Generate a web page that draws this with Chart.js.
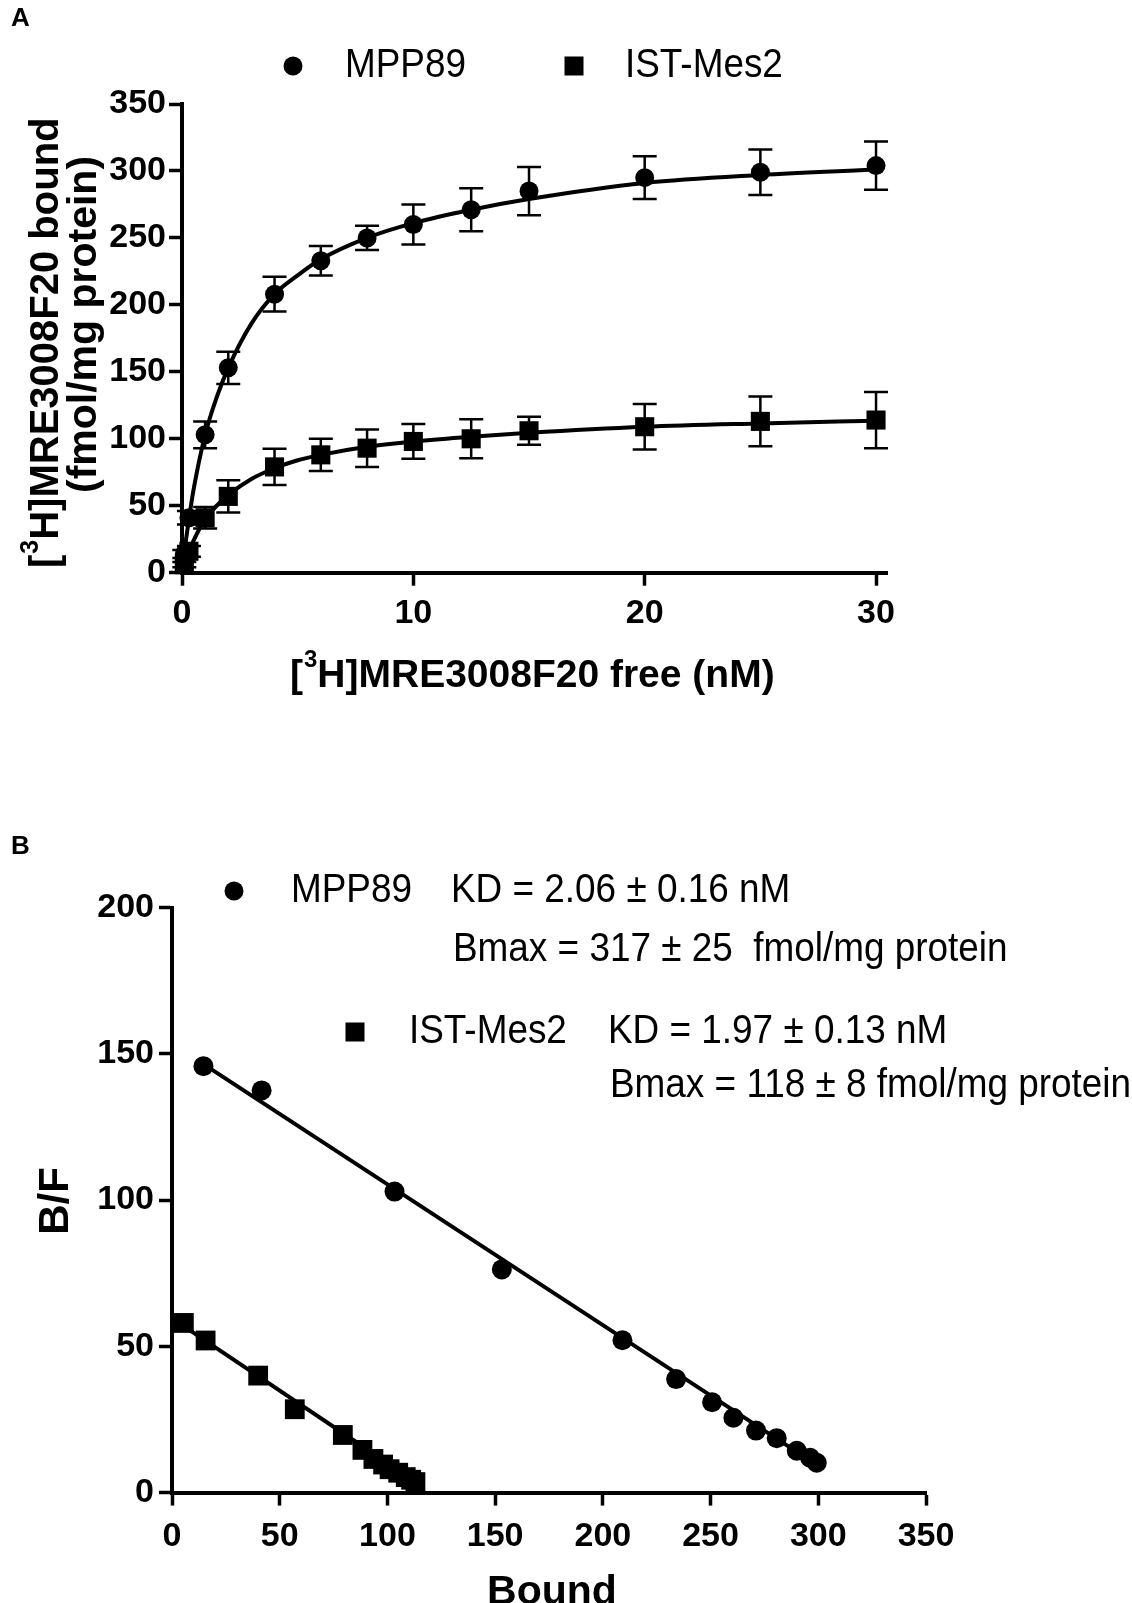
<!DOCTYPE html>
<html>
<head>
<meta charset="utf-8">
<title>Saturation binding and Scatchard plot</title>
<script src="https://cdn.jsdelivr.net/npm/chart.js@4.4.0/dist/chart.umd.min.js"></script>
<style>
  html, body { margin: 0; padding: 0; background: #fff; }
  #wrap { position: relative; width: 1132px; height: 1603px; overflow: hidden; }
  .panel { position: absolute; left: 0; width: 1132px; }
  #panelA { top: 0; height: 800px; }
  #panelB { top: 800px; height: 803px; }
</style>
</head>
<body>
<div id="wrap">
  <div class="panel" id="panelA"><canvas id="chartA"></canvas></div>
  <div class="panel" id="panelB"><canvas id="chartB"></canvas></div>
</div>
<script>
// ---- panel A : saturation curves ----
const freeNM = [0.1, 0.3, 1, 2, 4, 6, 8, 10, 12.5, 15, 20, 25, 30];
const mppBound = [14, 41, 103, 153, 208, 233, 250, 260, 271, 285, 295, 299, 304];
const mppBoundErr = [3, 5, 10, 12, 13, 11, 9, 15, 16, 18, 16, 17, 18];
const istBound = [6, 16, 41, 57, 79, 88, 93, 98, 100, 106, 109, 113, 114];
const istBoundErr = [2, 4, 8, 12, 13.5, 12, 14, 13, 14.5, 10.5, 17, 18.5, 21];

// fitted curves
const fitFree = [0, 0.1, 0.3, 0.5, 1, 1.5, 2, 3, 4, 5, 6, 8, 10, 12.5, 15, 20, 25, 30];
const mppFit = [0, 15, 40, 62, 103, 131, 153, 186, 208, 222, 234, 250, 261, 271, 279, 291, 297, 301];
const istFit = [0, 6, 16, 24, 40, 50, 58, 70, 78, 84, 88, 94, 98, 101.5, 104.5, 109, 111.5, 113.5];

const freeTicks = [0, 10, 20, 30];

// ---- panel B : Scatchard ----
const mppScatB = [14.6, 41.6, 103.3, 153.1, 209.1, 234, 250.7, 260.6, 271.1, 280.7, 290, 296.2, 299.3];
const mppScatBF = [145.8, 137.5, 102.9, 76.3, 52.1, 38.8, 30.9, 25.6, 21.2, 18.6, 14.3, 11.9, 10.2];
const istScatB = [5.5, 15.6, 40, 57, 79.3, 88.4, 93.5, 98, 101, 105, 108.5, 111, 113];
const istScatBF = [58, 52, 40, 28.5, 19.7, 14.6, 11.5, 9.6, 8.0, 6.8, 5.3, 4.4, 3.6];

const mppLineB = [14.6, 299.3];
const mppLineBF = [146.5, 9.5];
const istLineB = [5.6, 113];
const istLineBF = [56.8, 3.7];

const FONT = '"Liberation Sans", Arial, Helvetica, sans-serif';
Chart.defaults.font.family = FONT;
Chart.defaults.color = '#000';

function pts(xs, ys) { return xs.map((v, i) => ({ x: v, y: ys[i] })); }

// error bars (mean +/- SEM) drawn through the chart scales
const errorBars = {
  id: 'errorBars',
  beforeDatasetsDraw(chart) {
    const ctx = chart.ctx, xs = chart.scales.x, ys = chart.scales.y;
    chart.data.datasets.forEach(ds => {
      if (!ds.errors) return;
      ctx.save();
      ctx.strokeStyle = '#000';
      ctx.lineWidth = 2.5;
      ds.data.forEach((p, i) => {
        const e = ds.errors[i];
        const px = xs.getPixelForValue(p.x);
        const top = ys.getPixelForValue(p.y + e);
        const bot = ys.getPixelForValue(p.y - e);
        ctx.beginPath();
        ctx.moveTo(px, top); ctx.lineTo(px, bot);
        ctx.moveTo(px - 12, top); ctx.lineTo(px + 12, top);
        ctx.moveTo(px - 12, bot); ctx.lineTo(px + 12, bot);
        ctx.stroke();
      });
      ctx.restore();
    });
  }
};

function narrowText(ctx, s, x, y) {
  ctx.save();
  ctx.font = '41px ' + FONT;
  ctx.textBaseline = 'middle';
  ctx.textAlign = 'left';
  ctx.translate(x, y);
  ctx.scale(0.9, 1);
  ctx.fillText(s, 0, 0);
  ctx.restore();
}

// "[" + superscript 3 + rest, bold
function tritiumText(ctx, rest, x, y, size) {
  ctx.textBaseline = 'middle';
  ctx.textAlign = 'left';
  ctx.font = 'bold ' + size + 'px ' + FONT;
  ctx.fillText('[', x, y);
  x += ctx.measureText('[').width + 1;
  ctx.font = 'bold ' + Math.round(size * 0.62) + 'px ' + FONT;
  ctx.fillText('3', x, y - size * 0.4);
  x += ctx.measureText('3').width;
  ctx.font = 'bold ' + size + 'px ' + FONT;
  ctx.fillText(rest, x, y);
}

function dot(ctx, x, y) {
  ctx.beginPath(); ctx.arc(x, y, 9.5, 0, Math.PI * 2); ctx.fill();
}
function square(ctx, x, y) {
  ctx.fillRect(x - 9.5, y - 9.5, 19, 19);
}

const labelsA = {
  id: 'labelsA',
  afterDraw(chart) {
    const ctx = chart.ctx;
    ctx.save();
    ctx.fillStyle = '#000';
    ctx.font = 'bold 26px ' + FONT;
    ctx.textBaseline = 'middle';
    ctx.fillText('A', 11, 19);

    dot(ctx, 293, 66);
    narrowText(ctx, 'MPP89', 345, 66);
    square(ctx, 574, 66);
    narrowText(ctx, 'IST-Mes2', 625, 66);

    tritiumText(ctx, 'H]MRE3008F20 free (nM)', 290, 676, 39);

    ctx.save();
    ctx.translate(47, 568); ctx.rotate(-Math.PI / 2);
    tritiumText(ctx, 'H]MRE3008F20 bound', 0, 0, 40);
    ctx.restore();
    ctx.save();
    ctx.translate(85, 493); ctx.rotate(-Math.PI / 2);
    ctx.font = 'bold 41px ' + FONT;
    ctx.textBaseline = 'middle';
    ctx.fillText('(fmol/mg protein)', 0, 0);
    ctx.restore();
    ctx.restore();
  }
};

const labelsB = {
  id: 'labelsB',
  afterDraw(chart) {
    const ctx = chart.ctx;
    ctx.save();
    ctx.fillStyle = '#000';
    ctx.font = 'bold 26px ' + FONT;
    ctx.textBaseline = 'middle';
    ctx.fillText('B', 11, 47);

    dot(ctx, 234, 91);
    narrowText(ctx, 'MPP89', 291, 91);
    narrowText(ctx, 'KD = 2.06 \u00b1 0.16 nM', 451, 91);
    narrowText(ctx, 'Bmax = 317 \u00b1 25  fmol/mg protein', 453, 150);
    square(ctx, 355, 232);
    narrowText(ctx, 'IST-Mes2', 409, 232);
    narrowText(ctx, 'KD = 1.97 \u00b1 0.13 nM', 608, 232);
    narrowText(ctx, 'Bmax = 118 \u00b1 8 fmol/mg protein', 610, 286);

    ctx.font = 'bold 41px ' + FONT;
    ctx.textAlign = 'center';
    ctx.fillText('Bound', 552, 793);
    ctx.save();
    ctx.translate(56, 401); ctx.rotate(-Math.PI / 2);
    ctx.font = 'bold 42px ' + FONT;
    ctx.fillText('B/F', 0, 0);
    ctx.restore();
    ctx.restore();
  }
};

function axisStyle(extra) {
  return Object.assign({
    type: 'linear',
    border: { display: true, color: '#000', width: 4 },
    grid: { display: true, drawOnChartArea: false, drawTicks: true, tickLength: 13, tickWidth: 3.5, tickColor: '#000' },
    title: { display: false }
  }, extra);
}
const tickFont = { family: FONT, size: 34, weight: 'bold' };

new Chart(document.getElementById('chartA'), {
  type: 'scatter',
  data: {
    datasets: [
      { label: 'MPP89 fit', data: pts(fitFree, mppFit), showLine: true, pointRadius: 0, borderColor: '#000', borderWidth: 4, cubicInterpolationMode: 'monotone', clip: false },
      { label: 'IST-Mes2 fit', data: pts(fitFree, istFit), showLine: true, pointRadius: 0, borderColor: '#000', borderWidth: 4, cubicInterpolationMode: 'monotone', clip: false },
      { label: 'MPP89', data: pts(freeNM, mppBound), errors: mppBoundErr, pointStyle: 'circle', pointRadius: 9.5, backgroundColor: '#000', borderColor: '#000', borderWidth: 0, clip: false },
      { label: 'IST-Mes2', data: pts(freeNM, istBound), errors: istBoundErr, pointStyle: 'rect', pointRadius: 13.5, backgroundColor: '#000', borderColor: '#000', borderWidth: 0, clip: false }
    ]
  },
  options: {
    responsive: true,
    maintainAspectRatio: false,
    animation: false,
    layout: { padding: { left: 0, right: 244.4, top: 104, bottom: 0 } },
    plugins: { legend: { display: false }, tooltip: { enabled: false } },
    scales: {
      x: axisStyle({
        min: 0, max: 30.5,
        afterBuildTicks: s => { s.ticks = freeTicks.map(v => ({ value: v })); },
        afterFit: s => { s.height = 227.3; },
        ticks: { font: tickFont, color: '#000', padding: 8, maxRotation: 0 }
      }),
      y: axisStyle({
        min: 0, max: 350,
        afterFit: s => { s.width = 182; },
        ticks: { stepSize: 50, font: tickFont, color: '#000', padding: 3 }
      })
    }
  },
  plugins: [errorBars, labelsA]
});

new Chart(document.getElementById('chartB'), {
  type: 'scatter',
  data: {
    datasets: [
      { label: 'MPP89 line', data: pts(mppLineB, mppLineBF), showLine: true, pointRadius: 0, borderColor: '#000', borderWidth: 4, clip: false },
      { label: 'IST-Mes2 line', data: pts(istLineB, istLineBF), showLine: true, pointRadius: 0, borderColor: '#000', borderWidth: 4, clip: false },
      { label: 'MPP89', data: pts(mppScatB, mppScatBF), pointStyle: 'circle', pointRadius: 10, backgroundColor: '#000', borderColor: '#000', borderWidth: 0, clip: false },
      { label: 'IST-Mes2', data: pts(istScatB, istScatBF), pointStyle: 'rect', pointRadius: 14, backgroundColor: '#000', borderColor: '#000', borderWidth: 0, clip: false }
    ]
  },
  options: {
    responsive: true,
    maintainAspectRatio: false,
    animation: false,
    layout: { padding: { left: 0, right: 206, top: 107.6, bottom: 0 } },
    plugins: { legend: { display: false }, tooltip: { enabled: false } },
    scales: {
      x: axisStyle({
        min: 0, max: 350,
        afterFit: s => { s.height = 110.4; },
        ticks: { stepSize: 50, font: tickFont, color: '#000', padding: 11, maxRotation: 0 }
      }),
      y: axisStyle({
        min: 0, max: 200,
        afterFit: s => { s.width = 172; },
        ticks: { stepSize: 50, font: tickFont, color: '#000', padding: 5 }
      })
    }
  },
  plugins: [labelsB]
});
</script>
</body>
</html>
